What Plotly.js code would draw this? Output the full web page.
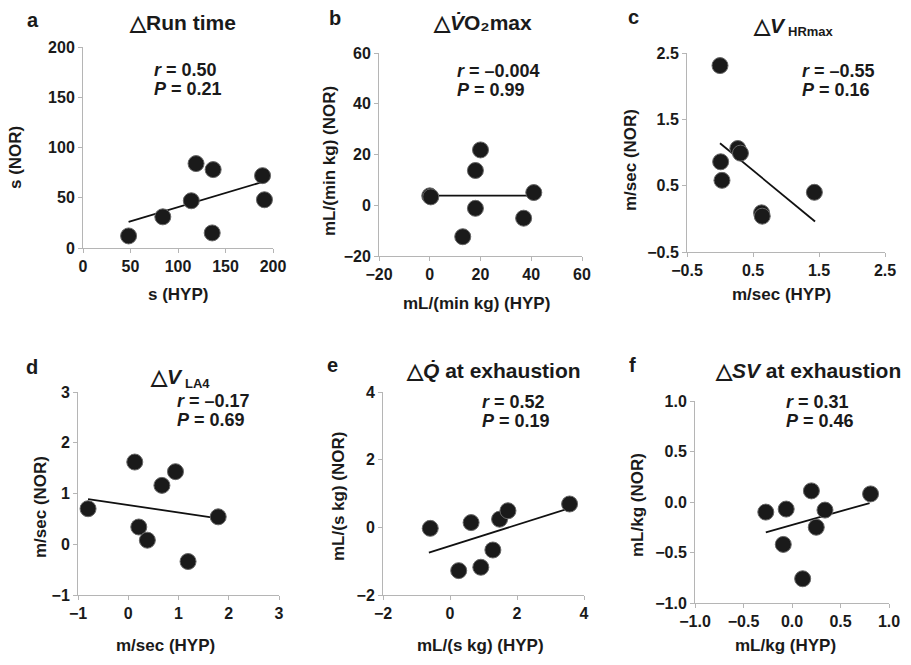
<!DOCTYPE html>
<html><head><meta charset="utf-8">
<script src="https://cdn.plot.ly/plotly-3.0.1.min.js"></script>
<style>body{margin:0;background:#fff}#chart{width:911px;height:665px}</style>
</head><body><div id="chart"></div>
<script>
// Panel a: ΔRun time
const aX = [48, 84, 114, 119, 137, 136, 189, 191];
const aY = [12, 31, 47, 84, 78, 15, 72, 48];
const aTrendX = [48, 190];
const aTrendY = [26, 66];
// Panel b: ΔVO2max
const bX = [0, 0.4, 20, 18, 18, 13, 41, 37];
const bY = [3.7, 3.3, 21.8, 13.7, -1.2, -12.4, 5, -5.1];
const bTrendX = [0, 41];
const bTrendY = [3.8, 3.8];
// Panel c: ΔV_HRmax
const cX = [0.0, 0.01, 0.03, 0.27, 0.31, 0.63, 0.64, 1.43];
const cY = [2.31, 0.86, 0.58, 1.06, 0.99, 0.09, 0.04, 0.40];
const cTrendX = [0.0, 1.44];
const cTrendY = [1.14, -0.04];
// Panel d: ΔV_LA4
const dX = [-0.80, 0.13, 0.21, 0.38, 0.67, 0.94, 1.19, 1.79];
const dY = [0.70, 1.62, 0.34, 0.08, 1.16, 1.43, -0.34, 0.54];
const dTrendX = [-0.80, 1.79];
const dTrendY = [0.89, 0.51];
// Panel e: ΔQ at exhaustion
const eX = [-0.59, 0.26, 0.63, 0.92, 1.28, 1.48, 1.73, 3.57];
const eY = [-0.03, -1.28, 0.14, -1.18, -0.67, 0.24, 0.49, 0.69];
const eTrendX = [-0.63, 3.55];
const eTrendY = [-0.75, 0.56];
// Panel f: ΔSV at exhaustion
const fX = [-0.27, -0.06, -0.09, 0.20, 0.34, 0.25, 0.11, 0.81];
const fY = [-0.10, -0.07, -0.42, 0.11, -0.08, -0.25, -0.76, 0.08];
const fTrendX = [-0.27, 0.80];
const fTrendY = [-0.30, -0.01];

const letters = ['a','b','c','d','e','f'];
// main title text and optional subscript text (drawn as a separate smaller label)
const titles = ['△Run time', '△<i>V̇</i>O₂max', '△<i>V</i>', '△<i>V</i>', '△<i>Q̇</i> at exhaustion', '△<i>SV</i> at exhaustion'];
const titleSubs = ['', '', 'HRmax', 'LA4', '', ''];
const rTexts = ['<i>r</i> = 0.50', '<i>r</i> = –0.004', '<i>r</i> = –0.55', '<i>r</i> = –0.17', '<i>r</i> = 0.52', '<i>r</i> = 0.31'];
const pTexts = ['<i>P</i> = 0.21', '<i>P</i> = 0.99', '<i>P</i> = 0.16', '<i>P</i> = 0.69', '<i>P</i> = 0.19', '<i>P</i> = 0.46'];
const xTitles = ['s (HYP)', 'mL/(min kg) (HYP)', 'm/sec (HYP)', 'm/sec (HYP)', 'mL/(s kg) (HYP)', 'mL/kg (HYP)'];
const yTitles = ['s (NOR)', 'mL/(min kg) (NOR)', 'm/sec (NOR)', 'm/sec (NOR)', 'mL/(s kg) (NOR)', 'mL/kg (NOR)'];
const ranges = [[0,200],[-20,60],[-0.5,2.5],[-1,3],[-2,4],[-1,1]];
const dticks = [50, 20, 1, 1, 2, 0.5];
const tickfmt = ['', '', '.1f', '', '', '.1f'];

const W = 911, H = 665;
// plot boxes in pixels [x0, x1, y0(top), y1(bottom)]
const boxes = [[83,273,47,248],[379,582,53,256],[687,885,53,252],[78,279,392,595],[383,584,392,595],[695,889,401,603]];
const letterPos = [[33,20],[335,18],[633,17],[32,367],[332,365],[632,365]];
// for split titles: titlePos x = joint between main part and subscript
const titlePos = [[182,23],[482,23],[787,25],[184,376],[493,370],[808,370]];
const subPos = [null, null, [787,32], [184,383], null, null];
const statPos = [[153,70],[456,71],[801,71],[176,401],[481,402],[785,402]];
const xTitlePos = [[178,295],[477,304],[781,295],[165,645],[480,645],[785,645]];
const yTitlePos = [[15,158],[330,161],[630,160],[40,507],[338,497],[637,505]];

const xs = [aX,bX,cX,dX,eX,fX], ys = [aY,bY,cY,dY,eY,fY];
const txs = [aTrendX,bTrendX,cTrendX,dTrendX,eTrendX,fTrendX];
const tys = [aTrendY,bTrendY,cTrendY,dTrendY,eTrendY,fTrendY];

const FONT = 'Liberation Sans, Arial, sans-serif';
const data = [], annotations = [];
const layout = {width: W, height: H, margin: {l:0,r:0,t:0,b:0}, showlegend: false,
  paper_bgcolor: '#fff', plot_bgcolor: '#fff', font: {family: FONT, color: '#1a1a1a'}};

function ann(text, px, py, size, opts) {
  return Object.assign({text: '<b>'+text+'</b>', xref: 'paper', yref: 'paper', x: px/W, y: 1-py/H,
    xanchor: 'center', yanchor: 'middle', showarrow: false, borderpad: 0,
    font: {size: size, family: FONT, color: '#1a1a1a'}}, opts || {});
}

for (let i = 0; i < 6; i++) {
  const n = i === 0 ? '' : String(i + 1);
  const b = boxes[i];
  data.push({x: txs[i], y: tys[i], xaxis: 'x'+n, yaxis: 'y'+n, mode: 'lines', type: 'scatter',
    line: {color: '#111', width: 1.8}, hoverinfo: 'skip'});
  data.push({x: xs[i], y: ys[i], xaxis: 'x'+n, yaxis: 'y'+n, mode: 'markers', type: 'scatter',
    marker: {color: '#1a1a1a', size: 16, line: {color: '#666', width: 1}}, cliponaxis: false});
  const axCommon = {showgrid: false, zeroline: false, showline: true, linecolor: '#b5b5b5', linewidth: 1,
    ticks: 'outside', ticklen: 4, tickcolor: '#b5b5b5', tickfont: {size: 16, weight: 'bold', family: FONT, color: '#1a1a1a'},
    range: ranges[i], autorange: false, tick0: ranges[i][0], dtick: dticks[i], tickformat: tickfmt[i], fixedrange: true};
  layout['xaxis'+n] = Object.assign({}, axCommon, {domain: [b[0]/W, b[1]/W], anchor: 'y'+n});
  layout['yaxis'+n] = Object.assign({}, axCommon, {domain: [1-b[3]/H, 1-b[2]/H], anchor: 'x'+n});
  annotations.push(ann(letters[i], letterPos[i][0], letterPos[i][1], 20));
  if (titleSubs[i]) {
    annotations.push(ann(titles[i], titlePos[i][0], titlePos[i][1], 21, {xanchor: 'right'}));
    annotations.push(ann(titleSubs[i], subPos[i][0], subPos[i][1], 13, {xanchor: 'left'}));
  } else {
    annotations.push(ann(titles[i], titlePos[i][0], titlePos[i][1], 21));
  }
  annotations.push(ann(rTexts[i], statPos[i][0], statPos[i][1], 18, {xanchor: 'left', align: 'left'}));
  annotations.push(ann(pTexts[i], statPos[i][0], statPos[i][1]+19, 18, {xanchor: 'left', align: 'left'}));
  annotations.push(ann(xTitles[i], xTitlePos[i][0], xTitlePos[i][1], 17));
  annotations.push(ann(yTitles[i], yTitlePos[i][0], yTitlePos[i][1], 17, {textangle: -90}));
}
layout.annotations = annotations;
Plotly.newPlot('chart', data, layout, {displayModeBar: false, staticPlot: true});
</script></body></html>
